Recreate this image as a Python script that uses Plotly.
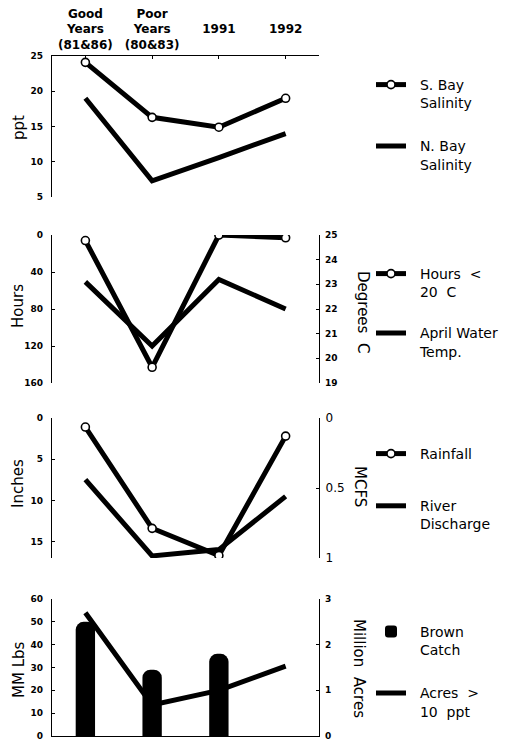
import plotly.graph_objects as go

# ---------------- data ----------------
categories = ["Good", "Poor", "1991", "1992"]
category_labels = ["Good<br>Years<br>(81&86)", "Poor<br>Years<br>(80&83)", "1991<br>\u00a0", "1992<br>\u00a0"]

s_bay_salinity = [24.1, 16.3, 14.9, 19.0]
n_bay_salinity = [19.0, 7.3, 10.6, 14.0]

hours_below_20c = [6, 143, 0, 3]
april_water_temp = [23.1, 20.5, 23.2, 22.0]

rainfall = [1.1, 13.4, 16.7, 2.2]
river_discharge = [0.44, 0.985, 0.94, 0.56]

brown_catch_cats = ["Good", "Poor", "1991"]
brown_catch = [50, 29, 36]
acres_over_10ppt = [2.7, 0.68, 1.0, 1.53]

ticks_ppt = [5, 10, 15, 20, 25]
ticks_hours = [0, 40, 80, 120, 160]
ticks_deg = [19, 20, 21, 22, 23, 24, 25]
ticks_inches = [0, 5, 10, 15]
ticks_mcfs = [0, 0.5, 1]
ticks_mmlbs = [0, 10, 20, 30, 40, 50, 60]
ticks_macres = [0, 1, 2, 3]

# ---------------- layout helpers ----------------
W, H = 520, 743


def py(p):
    return 1 - p / H


def px(p):
    return p / W


XDOM = [px(52), px(319)]
P1 = [py(197), py(56)]
P2 = [py(383), py(235)]
P3 = [py(558), py(418)]
P4 = [py(736), py(599)]

FONT = "DejaVu Sans"
tickfont = dict(family=FONT, size=9, color="black", weight="bold")
LW = 5
mk = dict(symbol="circle", size=8, color="white", line=dict(color="black", width=1.6))
SP = "  "

fig = go.Figure()

# panel 1
fig.add_trace(go.Scatter(x=categories, y=s_bay_salinity, mode="lines+markers",
                         name=SP + "S. Bay<br>" + SP + "Salinity",
                         line=dict(color="black", width=LW), marker=mk, xaxis="x", yaxis="y",
                         legend="legend", legendgroup="a"))
fig.add_trace(go.Scatter(x=categories, y=n_bay_salinity, mode="lines",
                         name=SP + "N. Bay<br>" + SP + "Salinity",
                         line=dict(color="black", width=LW), xaxis="x", yaxis="y",
                         legend="legend", legendgroup="b"))
# panel 2
fig.add_trace(go.Scatter(x=categories, y=hours_below_20c, mode="lines+markers",
                         name=SP + "Hours  <<br>" + SP + "20  C",
                         line=dict(color="black", width=LW), marker=mk, xaxis="x2", yaxis="y2",
                         legend="legend2", legendgroup="c"))
fig.add_trace(go.Scatter(x=categories, y=april_water_temp, mode="lines",
                         name=SP + "April Water<br>" + SP + "Temp.",
                         line=dict(color="black", width=LW), xaxis="x2", yaxis="y3",
                         legend="legend2", legendgroup="d"))
# panel 3
fig.add_trace(go.Scatter(x=categories, y=rainfall, mode="lines+markers", name=SP + "Rainfall",
                         line=dict(color="black", width=LW), marker=mk, xaxis="x3", yaxis="y4",
                         legend="legend3", legendgroup="e"))
fig.add_trace(go.Scatter(x=categories, y=river_discharge, mode="lines",
                         name=SP + "River<br>" + SP + "Discharge",
                         line=dict(color="black", width=LW), xaxis="x3", yaxis="y5",
                         legend="legend3", legendgroup="f"))
# panel 4
fig.add_trace(go.Bar(x=brown_catch_cats, y=brown_catch, name=SP + "Brown<br>" + SP + "Catch", width=0.29,
                     marker=dict(color="black", line=dict(width=0)), xaxis="x4", yaxis="y6",
                     legend="legend4", legendgroup="g"))
fig.add_trace(go.Scatter(x=categories, y=acres_over_10ppt, mode="lines",
                         name=SP + "Acres  ><br>" + SP + "10  ppt",
                         line=dict(color="black", width=LW), xaxis="x4", yaxis="y7",
                         legend="legend4", legendgroup="h"))

common_x = dict(domain=XDOM, range=[-0.5, 3.5], type="category", categoryorder="array",
                categoryarray=categories, fixedrange=True, showgrid=False, zeroline=False,
                automargin=False)


def yax(dom, rng, tv, side="left", overlay=None, anchor="x", font=tickfont, ticktext=None, standoff=6):
    d = dict(range=rng, tickvals=tv, showline=True, linecolor="black", linewidth=1.2,
             ticks="inside", ticklen=3, tickcolor="black", tickfont=font, showgrid=False,
             zeroline=False, side=side, anchor=anchor, fixedrange=True, automargin=False,
             ticklabelstandoff=standoff)
    if ticktext is not None:
        d["ticktext"] = ticktext
    if overlay:
        d["overlaying"] = overlay
    else:
        d["domain"] = dom
    return d


fig.update_layout(
    width=W, height=H, margin=dict(l=0, r=0, t=0, b=0, autoexpand=False),
    paper_bgcolor="white", plot_bgcolor="rgba(0,0,0,0)",
    font=dict(family=FONT, color="black"),
    barcornerradius=8,
    xaxis=dict(**common_x, anchor="y", side="top", showline=True, linecolor="black", linewidth=1.2,
               ticks="inside", ticklen=3, tickcolor="black", tickvals=categories, ticktext=category_labels,
               ticklabelstandoff=1,
               tickfont=dict(family=FONT, size=12, color="black", weight="bold")),
    yaxis=yax(P1, [5, 25], ticks_ppt, anchor="x"),
    xaxis2=dict(**common_x, anchor="y2", visible=False),
    yaxis2=yax(P2, [160, 0], ticks_hours, anchor="x2"),
    yaxis3=yax(None, [19, 25], ticks_deg, side="right", overlay="y2", anchor="x2", standoff=3),
    xaxis3=dict(**common_x, anchor="y4", visible=False),
    yaxis4=yax(P3, [17, 0], ticks_inches, anchor="x3"),
    yaxis5=yax(None, [1, 0], ticks_mcfs, side="right", overlay="y4", anchor="x3",
               font=dict(family=FONT, size=12, color="black"), ticktext=["0", "0.5", "1"], standoff=3),
    xaxis4=dict(**common_x, anchor="y6", showline=True, linecolor="black", linewidth=1.2,
                showticklabels=False, ticks=""),
    yaxis6=yax(P4, [0, 60], ticks_mmlbs, anchor="x4"),
    yaxis7=yax(None, [0, 3], ticks_macres, side="right", overlay="y6", anchor="x4", standoff=3),
)

legfont = dict(family=FONT, size=14, color="black")
legcommon = dict(xanchor="left", yanchor="top", bgcolor="rgba(0,0,0,0)", font=legfont,
                 valign="top", itemwidth=30, traceorder="grouped", borderwidth=0)
fig.update_layout(
    legend=dict(x=px(371), y=py(69), tracegroupgap=22, **legcommon),
    legend2=dict(x=px(371), y=py(258), tracegroupgap=20, **legcommon),
    legend3=dict(x=px(371), y=py(438), tracegroupgap=31, **legcommon),
    legend4=dict(x=px(371), y=py(616), tracegroupgap=22, **legcommon),
)

titles = [
    ("ppt", 19, 128, -90), ("Hours", 18, 306, -90), ("Inches", 18, 484, -90), ("MM Lbs", 19, 670, -90),
    ("Degrees  C", 363, 312, 90), ("MCFS", 360, 486, 90), ("Million  Acres", 359, 668, 90),
]
for t, x, y, a in titles:
    fig.add_annotation(text=t, x=px(x), y=py(y), xref="paper", yref="paper", showarrow=False,
                       textangle=a, font=dict(family=FONT, size=15, color="black"),
                       xanchor="center", yanchor="middle")

fig.write_html("out.html", config={"displayModeBar": False},
               post_script="document.body.style.margin='0';")
